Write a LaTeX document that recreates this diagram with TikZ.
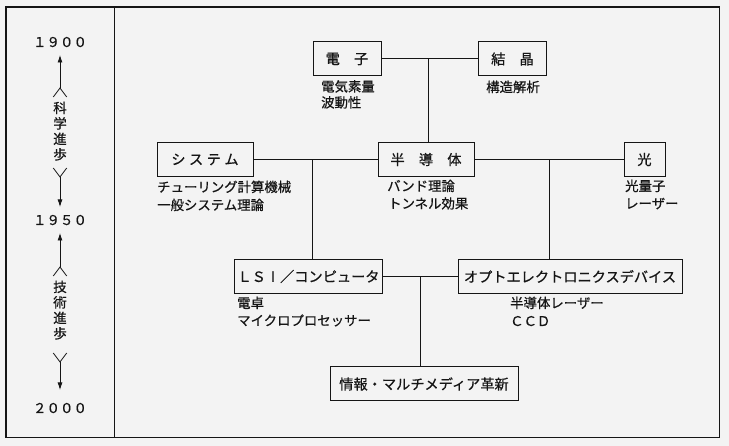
\documentclass[tikz,border=0pt]{standalone}
\usepackage{fontspec}
\setmainfont{Noto Sans CJK JP}[FakeBold=0.6]
\usetikzlibrary{arrows.meta}
\definecolor{bg}{HTML}{F3F3F3}
\definecolor{ink}{HTML}{151515}
\begin{document}
\begin{tikzpicture}[x=1pt,y=-1pt,
  box/.style={draw=ink, line width=1pt, fill=bg, minimum height=34pt, inner sep=0pt, font=\fontsize{14.2}{16}\selectfont, text=ink},
  sub/.style={anchor=base west, inner sep=0pt, font=\fontsize{13.4}{16}\selectfont, text=ink},
  link/.style={draw=ink, line width=1pt},
  yearlbl/.style={anchor=base, inner sep=0pt, font=\fontsize{13.5}{16}\selectfont, text=ink},
  vchar/.style={anchor=base, inner sep=0pt, font=\fontsize{13.5}{15}\selectfont, text=ink},
  chev/.style={draw=ink, line width=0.8pt},
  timearrow/.style={draw=ink, line width=0.8pt, -{Latex[length=7.5pt,width=5pt]}}
]
\fill[bg] (0,0) rectangle (729,446);
\useasboundingbox (0,0) rectangle (729,446);
% frame
\draw[ink, line width=1.3pt] (6,7) rectangle (719.5,437.5);
\draw[ink, line width=1.3pt] (114.5,7) -- (114.5,437.5);

% left time axis
\node[yearlbl] (y1900) at (60,47) {１９００};
\node[yearlbl] (y1950) at (60,225) {１９５０};
\node[yearlbl] (y2000) at (60,413) {２０００};

\coordinate (a1tip) at (60,55);
\coordinate (a1apex) at (60,88);
\draw[timearrow] (a1apex) -- (a1tip);
\draw[chev] (53.3,97) -- (a1apex) -- (66.7,97);
\node[vchar] (c1) at (60,113) {科};
\node[vchar] (c2) at (60,128.5) {学};
\node[vchar] (c3) at (60,144) {進};
\node[vchar] (c4) at (60,159.5) {歩};
\coordinate (a2apex) at (60,177);
\coordinate (a2tip) at (60,207);
\draw[chev] (53.3,168) -- (a2apex) -- (66.7,168);
\draw[timearrow] (a2apex) -- (a2tip);

\coordinate (b1tip) at (60,233);
\coordinate (b1apex) at (60,267);
\draw[timearrow] (b1apex) -- (b1tip);
\draw[chev] (53.3,276) -- (b1apex) -- (66.7,276);
\node[vchar] (d1) at (60,292) {技};
\node[vchar] (d2) at (60,307.5) {術};
\node[vchar] (d3) at (60,323) {進};
\node[vchar] (d4) at (60,338.5) {歩};
\coordinate (b2apex) at (60,362);
\coordinate (b2tip) at (60,390);
\draw[chev] (53.3,353) -- (b2apex) -- (66.7,353);
\draw[timearrow] (b2apex) -- (b2tip);

% boxes
\node[box, minimum width=68pt] (e) at (347,59) {電　子};
\node[box, minimum width=68.5pt] (k) at (512.5,59) {結　晶};
\node[box, minimum width=96pt, minimum height=34.5pt] (sys) at (205,159.5) {シ\kern3.5ptス\kern3.5ptテ\kern3.5ptム};
\node[box, minimum width=96pt, minimum height=34.5pt] (h) at (426,159.5) {半　導　体};
\node[box, minimum width=41pt, minimum height=34.5pt] (opt) at (644.5,159.5) {光};
\node[box, minimum width=148.5pt] (lsi) at (308.5,276.5) {ＬＳ\makebox[1em]{I}／コンピュータ};
\node[box, minimum width=224pt] (oe) at (570,276.5) {オプトエレクトロニクスデバイス};
\node[box, minimum width=188pt] (info) at (424,384) {情報・マルチメディア革新};

% sub labels
\node[sub] (e1) at (321,91.5) {電気素量};
\node[sub] (e2) at (321,107.5) {波動性};
\node[sub] (k1) at (486,92) {構造解析};
\node[sub] (s1) at (157,192) {チューリング計算機械};
\node[sub] (s2) at (157,210) {一般システム理論};
\node[sub] (h1) at (387,191) {バンド理論};
\node[sub] (h2) at (388,208.5) {トンネル効果};
\node[sub] (o1) at (625,191) {光量子};
\node[sub] (o2) at (625,208.5) {レーザー};
\node[sub] (l1) at (237,308) {電卓};
\node[sub] (l2) at (237,325.5) {マイクロプロセッサー};
\node[sub] (oe1) at (510,308) {半導体レーザー};
\node[sub] (oe2) at (510,326) {ＣＣＤ};

% connectors
\draw[link] (e.east) -- (k.west);
\coordinate (j1) at (428,59);
\draw[link] (j1) -- (j1 |- h.north);
\draw[link] (sys.east) -- (h.west);
\draw[link] (h.east) -- (opt.west);
\coordinate (j2) at (312,159.5);
\draw[link] (j2) -- (j2 |- lsi.north);
\coordinate (j3) at (549,159.5);
\draw[link] (j3) -- (j3 |- oe.north);
\draw[link] (lsi.east) -- (oe.west);
\coordinate (j4) at (420,276.5);
\draw[link] (j4) -- (j4 |- info.north);
\end{tikzpicture}
\end{document}
